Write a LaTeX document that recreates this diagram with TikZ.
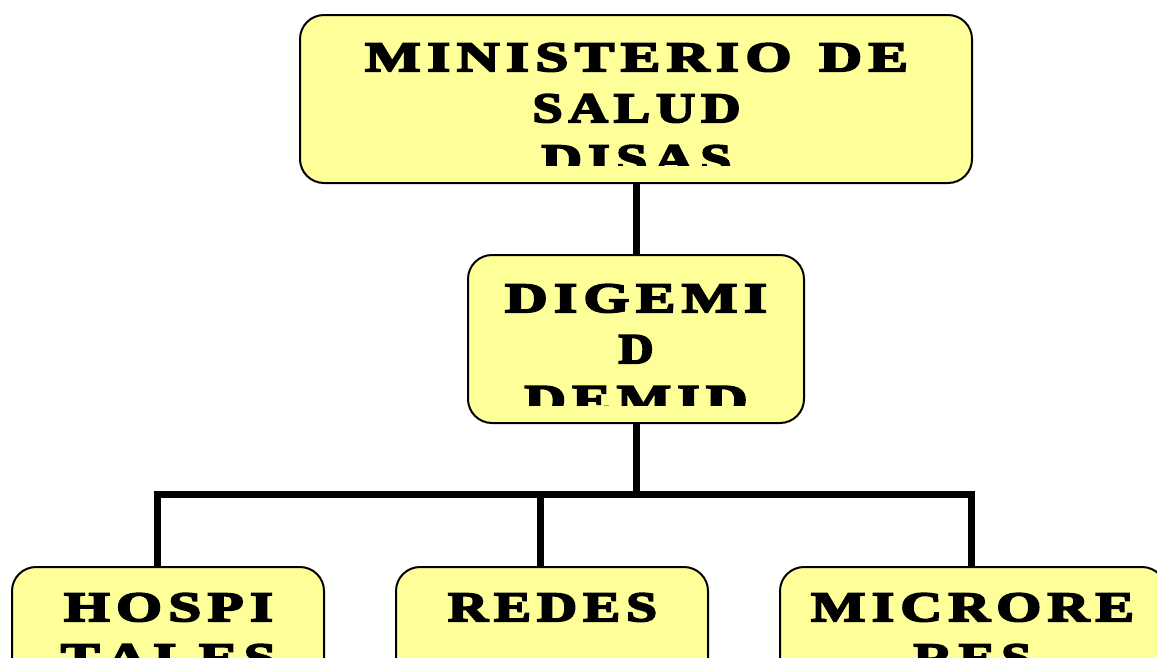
\documentclass[tikz,border=0pt]{standalone}
\usepackage{fontspec}
\usepackage{graphicx}
\newfontfamily\algfont{Liberation Serif}[UprightFont={* Bold},FakeBold=4]
\definecolor{boxyellow}{HTML}{FFFF99}
\makeatletter
\newlength\rskgap \setlength\rskgap{5pt}
\newcommand\sptext[1]{\def\rsk@first{1}\@tfor\rsk@c:=#1\do{\ifx\rsk@first\relax\hspace{\rskgap}\fi\let\rsk@first\relax\rsk@c}}
\makeatother
\newcommand\rskline[2]{\resizebox{#1}{28pt}{\sptext{#2}}}
\begin{document}
\begin{tikzpicture}[x=1pt,y=-1pt,
  box/.style={draw=black,line width=2pt,fill=boxyellow,rounded corners=24pt,inner sep=0pt,minimum height=168pt},
  wire/.style={line width=7pt,draw=black},
  lbl/.style={inner sep=0pt,anchor=north,align=center,font=\fontsize{45}{51}\algfont}]
\useasboundingbox (0,0) rectangle (1157,657);
% boxes
\node[box,minimum width=672pt] (ministerio) at (636,99) {};
\node[box,minimum width=336pt] (digemid) at (636,339) {};
\node[box,minimum width=312pt] (hospi) at (168,651) {};
\node[box,minimum width=312pt] (redes) at (552,651) {};
\node[box,minimum width=386pt] (micro) at (973,651) {};
% connectors
\coordinate (busC) at (636,494);
\coordinate (busL) at (157,494);
\coordinate (busM) at (540,494);
\coordinate (busR) at (971,494);
\draw[wire] (ministerio.south) -- (digemid.north);
\draw[wire] (digemid.south) -- (busC);
\draw[wire,line cap=rect] (busL) -- (busR);
\draw[wire] (busL) -- (busL |- hospi.north);
\draw[wire] (busM) -- (busM |- redes.north);
\draw[wire] (busR) -- (busR |- micro.north);
% texts
\begin{scope}
\clip (302,17) rectangle (970,165);
\node[lbl] (t1) at (636.5,43) {\rskline{543pt}{MINISTERIO~DE}\\\rskline{208pt}{SALUD}\\\rskline{190pt}{DISAS}};
\end{scope}
\begin{scope}
\clip (470,257) rectangle (802,405);
\node[lbl] (t2) at (636,284) {\rskline{262pt}{DIGEMI}\\\rskline{35pt}{D}\\\rskline{223pt}{DEMID}};
\end{scope}
\node[lbl] (t3) at (168.5,593) {\rskline{209pt}{HOSPI}\\\rskline{215pt}{TALES}};
\node[lbl] (t4) at (552.5,593) {\rskline{209pt}{REDES}};
\node[lbl] (t5) at (972.5,593) {\rskline{323pt}{MICRORE}\\\rskline{118pt}{RES}};
\end{tikzpicture}
\end{document}
